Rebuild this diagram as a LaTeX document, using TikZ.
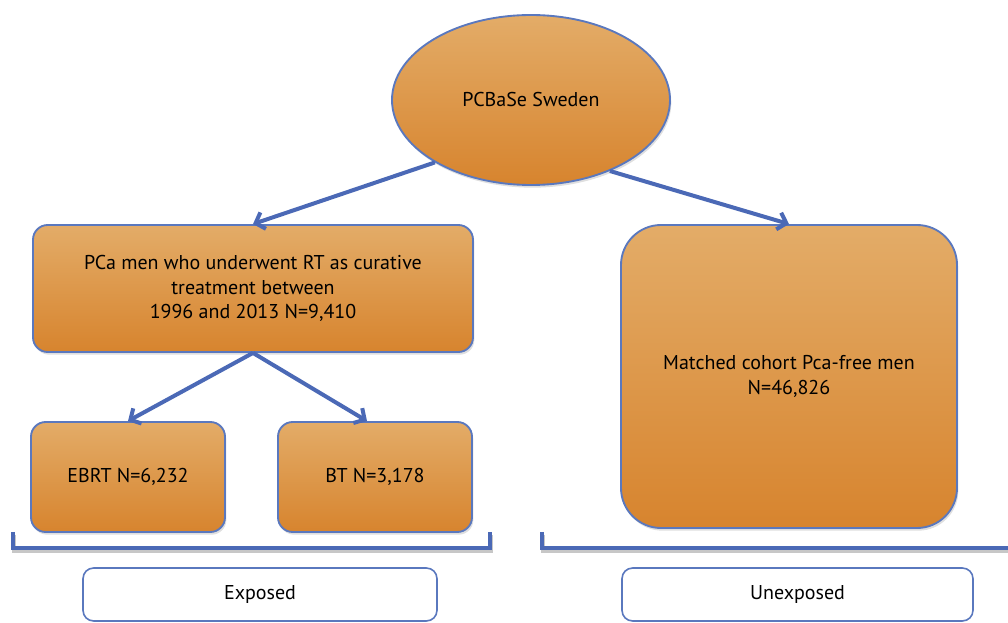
\documentclass[tikz,border=0pt]{standalone}
\usepackage{fontspec}
\setmainfont{PT Sans}
\usetikzlibrary{arrows.meta,shapes.geometric,shadows}
\definecolor{otop}{HTML}{E3AC68}
\definecolor{obot}{HTML}{D7842E}
\definecolor{bdr}{HTML}{5A78BE}
\definecolor{arr}{HTML}{4B69B6}
\tikzset{
  sz/.style 2 args={minimum width=#1*0.75pt, minimum height=#2*0.75pt},
  shad/.style={drop shadow={opacity=0.25, shadow xshift=1pt, shadow yshift=-2pt}},
  obox/.style={draw=bdr, line width=1.4pt, top color=otop, bottom color=obot,
    rounded corners=11pt, align=center, inner sep=0pt, shad},
  wbox/.style={draw=bdr, line width=1.2pt, fill=white, rounded corners=8pt,
    align=center, inner sep=0pt},
  conn/.style={draw=arr, line width=3pt, -{Straight Barb[length=6pt,width=13pt,line width=3pt]}},
  brk/.style={draw=arr, line width=3pt,
    preaction={draw=black!22, line width=3pt, transform canvas={xshift=1pt,yshift=-2pt}}},
}
\begin{document}
\begin{tikzpicture}[x=0.75pt, y=-0.75pt, font=\fontsize{15}{18.6}\selectfont]
\useasboundingbox (0,0) rectangle (1008,623);
\node[obox, sz={440}{127}] (pca) at (253,288.5) {PCa men who underwent RT as curative\\treatment between\\1996 and 2013 N=9,410};
\node[obox, sz={336}{303}, rounded corners=30pt] (match) at (789,376.5) {Matched cohort Pca-free men\\N=46,826};
\node[obox, sz={194}{110}] (ebrt) at (128,477) {EBRT N=6,232};
\node[obox, sz={194}{110}] (bt) at (375,477) {BT N=3,178};
\node[draw=bdr, line width=1.4pt, top color=otop, bottom color=obot, ellipse, sz={278}{170}, shad] (ell) at (531,100) {PCBaSe Sweden};
\draw[conn] (ell.213) -- (pca.north);
\draw[conn] (ell.318) -- (match.north);
\draw[conn] (pca.south) -- (ebrt.north);
\draw[conn] (pca.south) -- ([xshift=-6pt]bt.north);
% brackets
\coordinate (l1) at (13,532); \coordinate (l2) at (13,548);
\coordinate (l3) at (490,548); \coordinate (l4) at (490,532);
\coordinate (r1) at (542,532); \coordinate (r2) at (542,548);
\coordinate (r3) at (1008,548);
\draw[brk] (l1) -- (l2) -- (l3) -- (l4);
\draw[brk] (r1) -- (r2) -- (r3);
\node[wbox, sz={354}{53}] (expo) at (260,594.5) {Exposed};
\node[wbox, sz={351}{53}] (unexpo) at (797.5,594.5) {Unexposed};
\end{tikzpicture}
\end{document}
